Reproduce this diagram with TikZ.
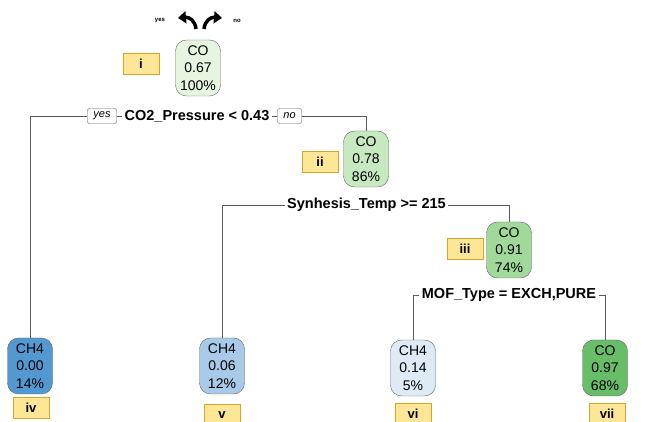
\documentclass[tikz,border=0pt]{standalone}
\usepackage{fontspec}
\setmainfont{Liberation Sans}
\usetikzlibrary{arrows.meta}

\definecolor{rootfill}{RGB}{229,245,224}
\definecolor{twofill}{RGB}{199,233,192}
\definecolor{threefill}{RGB}{161,217,155}
\definecolor{sevenfill}{RGB}{104,189,104}
\definecolor{fourfill}{RGB}{84,152,210}
\definecolor{fivefill}{RGB}{168,202,232}
\definecolor{sixfill}{RGB}{222,235,247}
\definecolor{tagfill}{RGB}{253,230,150}
\definecolor{tagline}{RGB}{214,165,40}
\definecolor{wiregray}{RGB}{90,90,90}

\begin{document}
\begin{tikzpicture}[x=1pt, y=-1pt,
    leaf/.style={draw=gray!80!black, rounded corners=11pt, minimum width=45pt,
        minimum height=56pt, inner sep=0pt, align=center,
        font=\fontsize{14}{17.5}\selectfont},
    tag/.style={draw=tagline, line width=0.9pt, fill=tagfill, minimum width=36pt,
        minimum height=21pt, inner sep=0pt, font=\fontsize{13}{13}\selectfont\bfseries},
    split/.style={inner sep=2.5pt, font=\fontsize{14.5}{15}\selectfont\bfseries},
    answer/.style={draw=wiregray, rounded corners=2pt, inner sep=1.5pt,
        minimum height=15pt, font=\fontsize{11}{11}\selectfont\itshape},
    wire/.style={draw=wiregray, line width=0.9pt}]

    \useasboundingbox (0,0) rectangle (646,422);

    % --- Direction hint ---
    \node[font=\fontsize{6}{6}\selectfont\bfseries] (hintyes) at (160,21) {yes};
    \node[font=\fontsize{6}{6}\selectfont\bfseries] (hintno) at (237,21) {no};
    \draw[line width=3.5pt, -{Triangle[length=8pt, width=12pt]}]
        (196,29) .. controls (195,20) and (189,17) .. (178,18);
    \draw[line width=3.5pt, -{Triangle[length=8pt, width=12pt]}]
        (204,29) .. controls (205,20) and (211,17) .. (222,18);

    % --- Root ---
    \node[leaf, fill=rootfill] (n1) at (198,68) {CO\\0.67\\100\%};
    \node[tag] (t1) at (141,64) {i};

    % --- Inner nodes ---
    \node[leaf, fill=twofill] (n2) at (366,159) {CO\\0.78\\86\%};
    \node[tag] (t2) at (320,162) {ii};

    \node[leaf, fill=threefill] (n3) at (509,250) {CO\\0.91\\74\%};
    \node[tag] (t3) at (465,249) {iii};

    % --- Leaves ---
    \node[leaf, fill=fourfill] (n4) at (30,366) {CH4\\0.00\\14\%};
    \node[leaf, fill=fivefill] (n5) at (222,366) {CH4\\0.06\\12\%};
    \node[leaf, fill=sixfill] (n6) at (413,368) {CH4\\0.14\\5\%};
    \node[leaf, fill=sevenfill] (n7) at (605,368) {CO\\0.97\\68\%};

    \node[tag] (t4) at (31,408) {iv};
    \node[tag] (t5) at (222,415) {v};
    \node[tag] (t6) at (413,414) {vi};
    \node[tag] (t7) at (607,414) {vii};

    % --- First split ---
    \node[split] (split1) at (197,116) {CO2\_Pressure < 0.43};
    \node[answer, minimum width=29pt] (yes) at (102,116) {yes};
    \node[answer, minimum width=24pt] (no) at (289.5,116) {no};

    \draw[wire] (yes.west) -| (n4.north);
    \draw[wire] (yes.east) -- (split1.west);
    \draw[wire] (split1.east) -- (no.west);
    \draw[wire] (no.east) -| (n2.north);

    % --- Second split ---
    \node[split] (split2) at (366.5,205) {Synhesis\_Temp >= 215};

    \draw[wire] (split2.west) -| (n5.north);
    \draw[wire] (split2.east) -| (n3.north);

    % --- Third split ---
    \node[split] (split3) at (509,295) {MOF\_Type = EXCH,PURE};

    \draw[wire] (split3.west) -| (n6.north);
    \draw[wire] (split3.east) -| (n7.north);

\end{tikzpicture}
\end{document}
